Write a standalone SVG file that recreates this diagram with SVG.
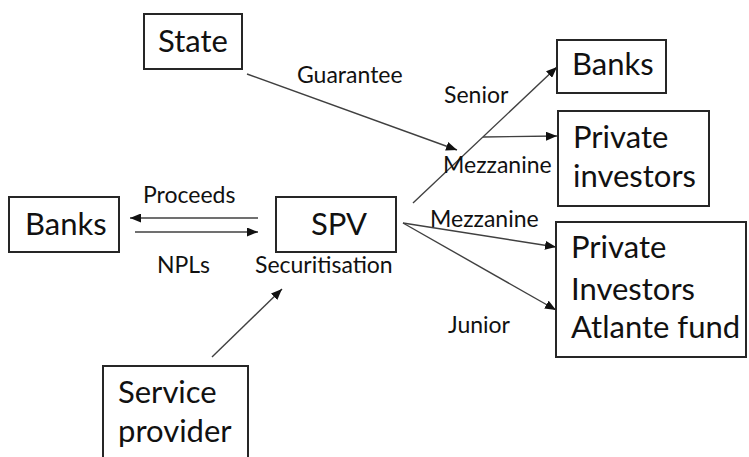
<svg xmlns="http://www.w3.org/2000/svg" width="749" height="457" viewBox="0 0 749 457">
<style>
.box{fill:#fff;stroke:#262626;stroke-width:2}
.big{font-family:Lato,"Open Sans",sans-serif;font-size:31px;fill:#111}
.lbl{font-family:Lato,"Open Sans",sans-serif;font-size:23px;fill:#111}
.con{stroke:#404040;stroke-width:1.4;fill:none;marker-end:url(#ah)}
</style>
<defs>
<marker id="ah" markerUnits="userSpaceOnUse" markerWidth="12" markerHeight="9" refX="11" refY="4.5" orient="auto">
<path d="M0,0 L11,4.5 L0,9 z" fill="#111"/>
</marker>
</defs>
<rect width="749" height="457" fill="#fff"/>
<g id="connectors">
<line class="con" x1="247" y1="74" x2="457" y2="150"/>
<line class="con" x1="413" y1="203" x2="557" y2="67"/>
<line class="con" x1="483" y1="137" x2="557" y2="136"/>
<line class="con" x1="258" y1="218" x2="130" y2="218"/>
<line class="con" x1="135" y1="232" x2="258" y2="232"/>
<line class="con" x1="403" y1="223" x2="556" y2="247"/>
<line class="con" x1="403" y1="223" x2="556" y2="310"/>
<line class="con" x1="212" y1="357" x2="282" y2="289"/>
</g>
<g id="labels">
<text class="lbl" x="297" y="83">Guarantee</text>
<text class="lbl" x="444" y="103">Senior</text>
<text class="lbl" x="443" y="173">Mezzanine</text>
<text class="lbl" x="143" y="203">Proceeds</text>
<text class="lbl" x="157" y="273">NPLs</text>
<text class="lbl" x="255" y="273">Securitisation</text>
<text class="lbl" x="430" y="227">Mezzanine</text>
<text class="lbl" x="448" y="333">Junior</text>
</g>
<g id="state">
<rect class="box" x="144" y="14" width="98" height="55"/>
<text class="big" x="193" y="52" text-anchor="middle">State</text>
</g>
<g id="banks-right">
<rect class="box" x="557" y="40" width="109" height="53"/>
<text class="big" x="572" y="75">Banks</text>
</g>
<g id="private-investors">
<rect class="box" x="558" y="111" width="151" height="95"/>
<text class="big" x="573" y="148">Private</text>
<text class="big" x="573" y="187">investors</text>
</g>
<g id="banks-left">
<rect class="box" x="9" y="197" width="110" height="55"/>
<text class="big" x="25" y="235">Banks</text>
</g>
<g id="spv">
<rect class="box" x="276" y="197" width="120" height="55"/>
<text class="big" x="339" y="235" text-anchor="middle">SPV</text>
</g>
<g id="private-investors-atlante">
<rect class="box" x="556" y="222" width="190" height="135"/>
<text class="big" x="571" y="258">Private</text>
<text class="big" x="571" y="300">Investors</text>
<text class="big" x="571" y="338">Atlante fund</text>
</g>
<g id="service-provider">
<rect class="box" x="103" y="366" width="145" height="100"/>
<text class="big" x="118" y="403">Service</text>
<text class="big" x="118" y="442">provider</text>
</g>
</svg>
